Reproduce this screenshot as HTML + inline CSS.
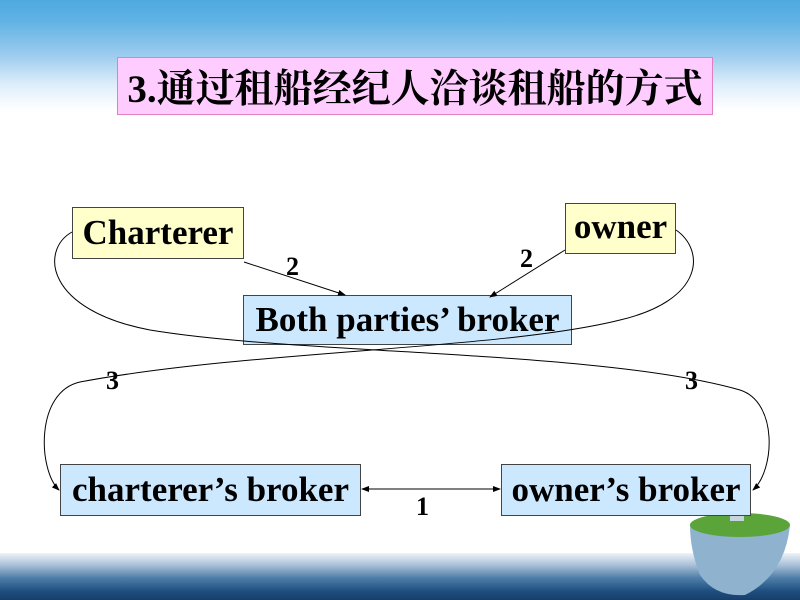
<!DOCTYPE html>
<html><head><meta charset="utf-8"><style>
body{margin:0;width:800px;height:600px;overflow:hidden;position:relative;background:#fff;font-family:"Liberation Serif","Noto Serif CJK SC",serif}
.top{position:absolute;left:0;top:0;width:800px;height:110px;background:linear-gradient(#4fa9e0 0,#5fb2e4 20px,#9ccbee 55px,#dfeefa 85px,#fff 110px)}
.bot{position:absolute;left:0;top:553px;width:800px;height:47px;background:linear-gradient(#eef3f8 0,#a9c1d8 12px,#4e7ea8 25px,#1f4f80 38px,#173e69 47px)}
.box{position:absolute;box-sizing:border-box;border:1px solid #444;font-weight:bold;color:#000;display:flex;align-items:center;justify-content:center;white-space:nowrap}
.y{background:#ffffcc}.b{background:#cce8ff}
.n{position:absolute;font-weight:bold;font-size:26px}
</style></head><body>
<div class="top"></div><div class="bot"></div>
<svg style="position:absolute;left:685px;top:505px" width="110" height="95">
<path d="M5,20 Q55,0 105,20 Q100,70 60,90 Q30,92 15,70 Q5,45 5,20z" fill="#8fb2cf"/>
<ellipse cx="55" cy="20" rx="50" ry="12" fill="#5aa43a"/>
<rect x="45" y="2" width="14" height="14" fill="#c8d4dc"/>
</svg>
<div class="box" style="left:117px;top:57px;width:596px;height:58px;background:#ffccff;border-color:#e080c0;font-size:39px">3.通过租船经纪人洽谈租船的方式</div>
<div class="box y" style="left:72px;top:207px;width:172px;height:52px;font-size:35px">Charterer</div>
<div class="box y" style="left:565px;top:203px;width:111px;height:51px;font-size:35px;align-items:flex-start;padding-top:3px">owner</div>
<div class="box b" style="left:243px;top:295px;width:329px;height:50px;font-size:35px">Both parties’ broker</div>
<div class="box b" style="left:60px;top:464px;width:301px;height:52px;font-size:35px">charterer’s broker</div>
<div class="box b" style="left:501px;top:464px;width:250px;height:52px;font-size:35px">owner’s broker</div>
<svg style="position:absolute;left:0;top:0" width="800" height="600">
<defs><marker id="a" markerWidth="8" markerHeight="8" refX="7" refY="4" orient="auto"><path d="M0,1 L8,4 L0,7z" fill="#000"/></marker></defs>
<g fill="none" stroke="#000" stroke-width="1">
<path d="M72,232 C40,250 45,310 150,330 C300,355 600,350 740,390 C778,402 775,470 753,490" marker-end="url(#a)"/>
<path d="M676,230 C705,250 705,300 620,320 C500,350 250,350 80,382 C35,392 38,470 59,490" marker-end="url(#a)"/>
<path d="M244,262 L345,295" marker-end="url(#a)"/>
<path d="M565,250 L490,297" marker-end="url(#a)"/>
<path d="M400,489 L500,489" marker-end="url(#a)"/>
<path d="M400,489 L362,489" marker-end="url(#a)"/>
</g></svg>
<div class="n" style="left:286px;top:252px">2</div>
<div class="n" style="left:520px;top:244px">2</div>
<div class="n" style="left:106px;top:366px">3</div>
<div class="n" style="left:685px;top:366px">3</div>
<div class="n" style="left:416px;top:492px">1</div>
</body></html>
